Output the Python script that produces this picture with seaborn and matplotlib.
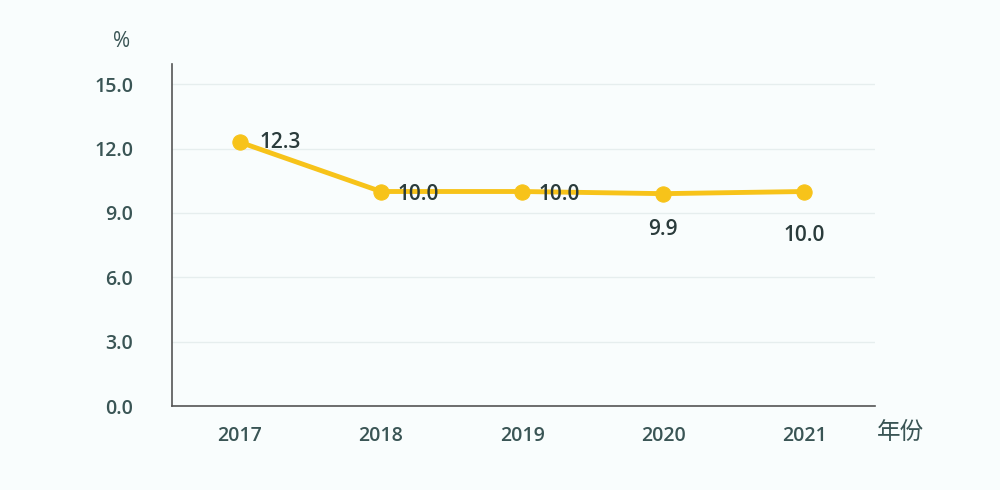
import matplotlib.pyplot as plt
import seaborn as sns
import pandas as pd

years = ["2017", "2018", "2019", "2020", "2021"]
rates = [12.3, 10.0, 10.0, 9.9, 10.0]
yticks = [0.0, 3.0, 6.0, 9.0, 12.0, 15.0]

sns.set_style("white")
plt.rcParams['font.family'] = ['Open Sans', 'Noto Sans CJK SC', 'DejaVu Sans']

df = pd.DataFrame({"x": range(len(years)), "rate": rates})
txt = '#3a5555'
gold = '#F7C31A'
bg = '#f9fdfd'

fig = plt.figure(figsize=(10, 4.9), dpi=100)
fig.patch.set_facecolor(bg)
ax = fig.add_axes([0.172, 0.171, 0.703, 0.698])
ax.set_facecolor(bg)

sns.lineplot(data=df, x="x", y="rate", ax=ax, color=gold, linewidth=3.5,
             marker='o', markersize=11, markeredgecolor=gold)

offsets = [(14, 0, 'left', 'center'), (12, -2, 'left', 'center'), (12, -2, 'left', 'center'),
           (0, -26, 'center', 'center'), (0, -32, 'center', 'center')]
for i, v in enumerate(rates):
    dx, dy, ha, va = offsets[i]
    ax.annotate(f"{v:.1f}", (i, v), xytext=(dx, dy), textcoords='offset points',
                ha=ha, va=va, fontsize=15, color='#2a3b3b', fontweight='semibold')

ax.set_xlim(-0.48, 4.5)
ax.set_ylim(0, 15.93)
ax.set_yticks(yticks)
ax.set_yticklabels([f"{t:.1f}" for t in yticks])
ax.set_xticks(range(len(years)))
ax.set_xticklabels(years)
ax.tick_params(colors=txt, labelsize=14, length=0, pad=14)
ax.tick_params(axis='y', pad=28)
for lab in ax.get_xticklabels() + ax.get_yticklabels():
    lab.set_fontweight('semibold')
ax.yaxis.grid(True, color='#e6eeee', linewidth=1)
for s in ['top', 'right']:
    ax.spines[s].set_visible(False)
for s in ['left', 'bottom']:
    ax.spines[s].set_color('#555555')
    ax.spines[s].set_linewidth(1.2)
ax.set_xlabel("")
ax.set_ylabel("")
fig.text(0.113, 0.905, "%", fontsize=15, color=txt)
fig.text(0.877, 0.105, "年份", fontsize=17, color=txt, family=['Noto Sans CJK SC'])

fig.savefig("out.png", dpi=100, facecolor=fig.get_facecolor())
